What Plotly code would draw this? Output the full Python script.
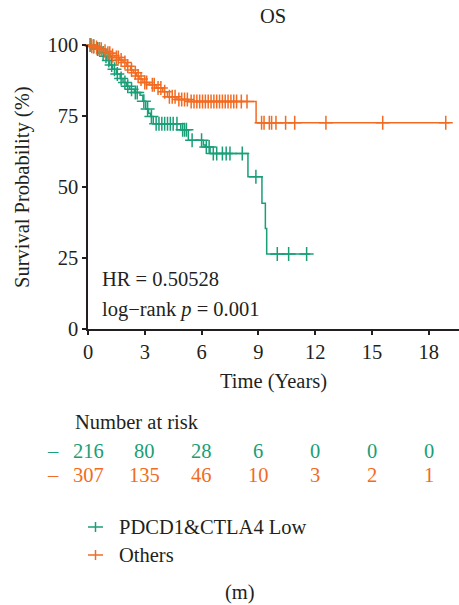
import numpy as np
import plotly.graph_objects as go

# ---------------- data ----------------
green_time = [0, 0.25, 0.45, 0.7, 0.85, 1.0, 1.15, 1.3, 1.5, 1.7, 1.85, 2.05, 2.2, 2.45,
              2.75, 2.9, 3.05, 3.2, 3.3, 3.45, 4.9, 5.3, 6.1, 6.2, 6.45, 8.45, 9.19,
              9.37, 9.44, 11.73]
green_surv = [100, 99.5, 98.6, 97.2, 96, 94.5, 93, 91.5, 89.8, 88.2, 86.8, 85.5, 84.4, 83.3,
              82.3, 80.2, 77.5, 76, 74.8, 72.3, 70.2, 66.5, 64.8, 64.1, 61.8, 53.6, 44.3,
              35.4, 26.4, 26.4]
green_censor = [0.15, 0.3, 0.5, 0.6, 0.8, 0.95, 1.1, 1.25, 1.4, 1.55, 1.75, 1.95, 2.1, 2.3,
                2.5, 2.6, 2.95, 3.15, 3.35, 3.6, 3.75, 3.9, 4.05, 4.2, 4.35, 4.5, 4.7, 5.0,
                5.1, 5.2, 5.5, 6.0, 6.25, 6.4, 6.62, 6.8, 7.1, 7.3, 7.5, 8.15, 8.87, 10.0,
                10.6, 11.55]

orange_time = [0, 0.15, 0.35, 0.55, 0.8, 1.0, 1.2, 1.4, 1.65, 1.85, 2.05, 2.25, 2.4, 2.55,
               2.7, 2.9, 3.25, 3.6, 3.95, 4.2, 4.7, 5.3, 8.88, 19.1]
orange_surv = [100, 99.6, 99.1, 98.5, 97.8, 97.1, 96.3, 95.6, 94.7, 93.8, 92.5, 91.2, 90.2,
               89.1, 88.0, 86.8, 86.0, 84.9, 83.5, 81.8, 80.8, 80.1, 72.6, 72.6]
orange_censor = [0.1, 0.2, 0.3, 0.45, 0.6, 0.7, 0.9, 1.05, 1.15, 1.3, 1.5, 1.6, 1.75, 1.95,
                 2.1, 2.3, 2.5, 2.65, 2.8, 3.0, 3.1, 3.4, 3.5, 3.7, 3.85, 4.05, 4.3, 4.45,
                 4.6, 4.8, 4.95, 5.1, 5.25, 5.45, 5.6, 5.75, 5.9, 6.05, 6.2, 6.35, 6.5,
                 6.65, 6.8, 6.95, 7.1, 7.25, 7.4, 7.55, 7.7, 7.85, 8.1, 8.4, 9.17, 9.3,
                 9.58, 9.7, 9.93, 10.44, 10.92, 12.57, 15.57, 18.9]

risk_times = [0, 3, 6, 9, 12, 15, 18]
risk_green = [216, 80, 28, 6, 0, 0, 0]
risk_orange = [307, 135, 46, 10, 3, 2, 1]

group_names = ["PDCD1&CTLA4 Low", "Others"]
x_ticks = [0, 3, 6, 9, 12, 15, 18]
y_ticks = [0, 25, 50, 75, 100]

# ---------------- styles ----------------
GREEN = "#1a9e77"
ORANGE = "#f26b22"
TXT = "#231f20"
FONT = "Liberation Serif"
FS = 20.5

# plot area in pixels
W, H = 459, 605
L, R, T, B = 88, 459, 45, 329
PW, PH = R - L, B - T


def px_x(p):
    return (p - L) / PW


def px_y(p):
    return (B - p) / PH


def step_lookup(times, surv, t):
    idx = np.searchsorted(np.array(times), np.array(t), side="right") - 1
    return list(np.array(surv)[idx])


fig = go.Figure()
for times, surv, cens, col in [(green_time, green_surv, green_censor, GREEN),
                               (orange_time, orange_surv, orange_censor, ORANGE)]:
    fig.add_trace(go.Scatter(x=times, y=surv, mode="lines", line=dict(color=col, width=1.5, shape="hv"),
                             showlegend=False, hoverinfo="skip", cliponaxis=False))
    fig.add_trace(go.Scatter(x=cens, y=step_lookup(times, surv, cens), mode="markers",
                             marker=dict(symbol="cross-thin", size=10, line=dict(color=col, width=1.5)),
                             showlegend=False, hoverinfo="skip", cliponaxis=False))


def note(text, px, py, xanchor="center", color=TXT, angle=0, xref="paper", x=None):
    return dict(text=text, x=(px_x(px) if x is None else x), y=px_y(py), xref=xref, yref="paper",
                xanchor=xanchor, yanchor="middle", textangle=angle, showarrow=False,
                font=dict(size=FS, color=color, family=FONT))


ann = []
ann.append(note("OS", 273, 16))
ann.append(note("Survival Probability (%)", 22, 187, angle=-90))
ann.append(note("Time (Years)", 273, 381))
ann.append(note("HR = 0.50528", 100, 279, xanchor="left"))
ann.append(note("log\u2212rank <i>p</i> = 0.001", 100, 309, xanchor="left"))
ann.append(note("Number at risk", 73, 422, xanchor="left"))
for vals, col, py in [(risk_green, GREEN, 451), (risk_orange, ORANGE, 475)]:
    ann.append(note("\u2013", 53, py, color=col))
    for t, v in zip(risk_times, vals):
        ann.append(note(str(v), 0, py, color=col, xref="x", x=t))

shapes = []
for name, col, py in [(group_names[0], GREEN, 527), (group_names[1], ORANGE, 555)]:
    shapes.append(dict(type="line", xref="paper", yref="paper", x0=px_x(88), x1=px_x(103),
                       y0=px_y(py), y1=px_y(py), line=dict(color=col, width=1.5)))
    shapes.append(dict(type="line", xref="paper", yref="paper", x0=px_x(95.5), x1=px_x(95.5),
                       y0=px_y(py - 5), y1=px_y(py + 5), line=dict(color=col, width=1.5)))
    ann.append(note(name, 117, py, xanchor="left"))
ann.append(note("(m)", 240, 592))

fig.update_layout(
    width=W, height=H,
    margin=dict(l=L, r=W - R, t=T, b=H - B, pad=0),
    paper_bgcolor="white", plot_bgcolor="white",
    font=dict(family=FONT, size=FS, color=TXT),
    annotations=ann, shapes=shapes, showlegend=False,
    xaxis=dict(range=[0, 19.6], tickvals=x_ticks, ticks="outside", ticklen=4, tickwidth=1.5,
               tickcolor=TXT, showline=True, linecolor=TXT, linewidth=1.5, showgrid=False,
               zeroline=False, tickfont=dict(size=FS, color=TXT)),
    yaxis=dict(range=[0, 100], tickvals=y_ticks, ticks="outside", ticklen=4, tickwidth=1.5,
               tickcolor=TXT, showline=True, linecolor=TXT, linewidth=1.5, showgrid=False,
               zeroline=False, tickfont=dict(size=FS, color=TXT)),
)

fig.write_html("out.html")
